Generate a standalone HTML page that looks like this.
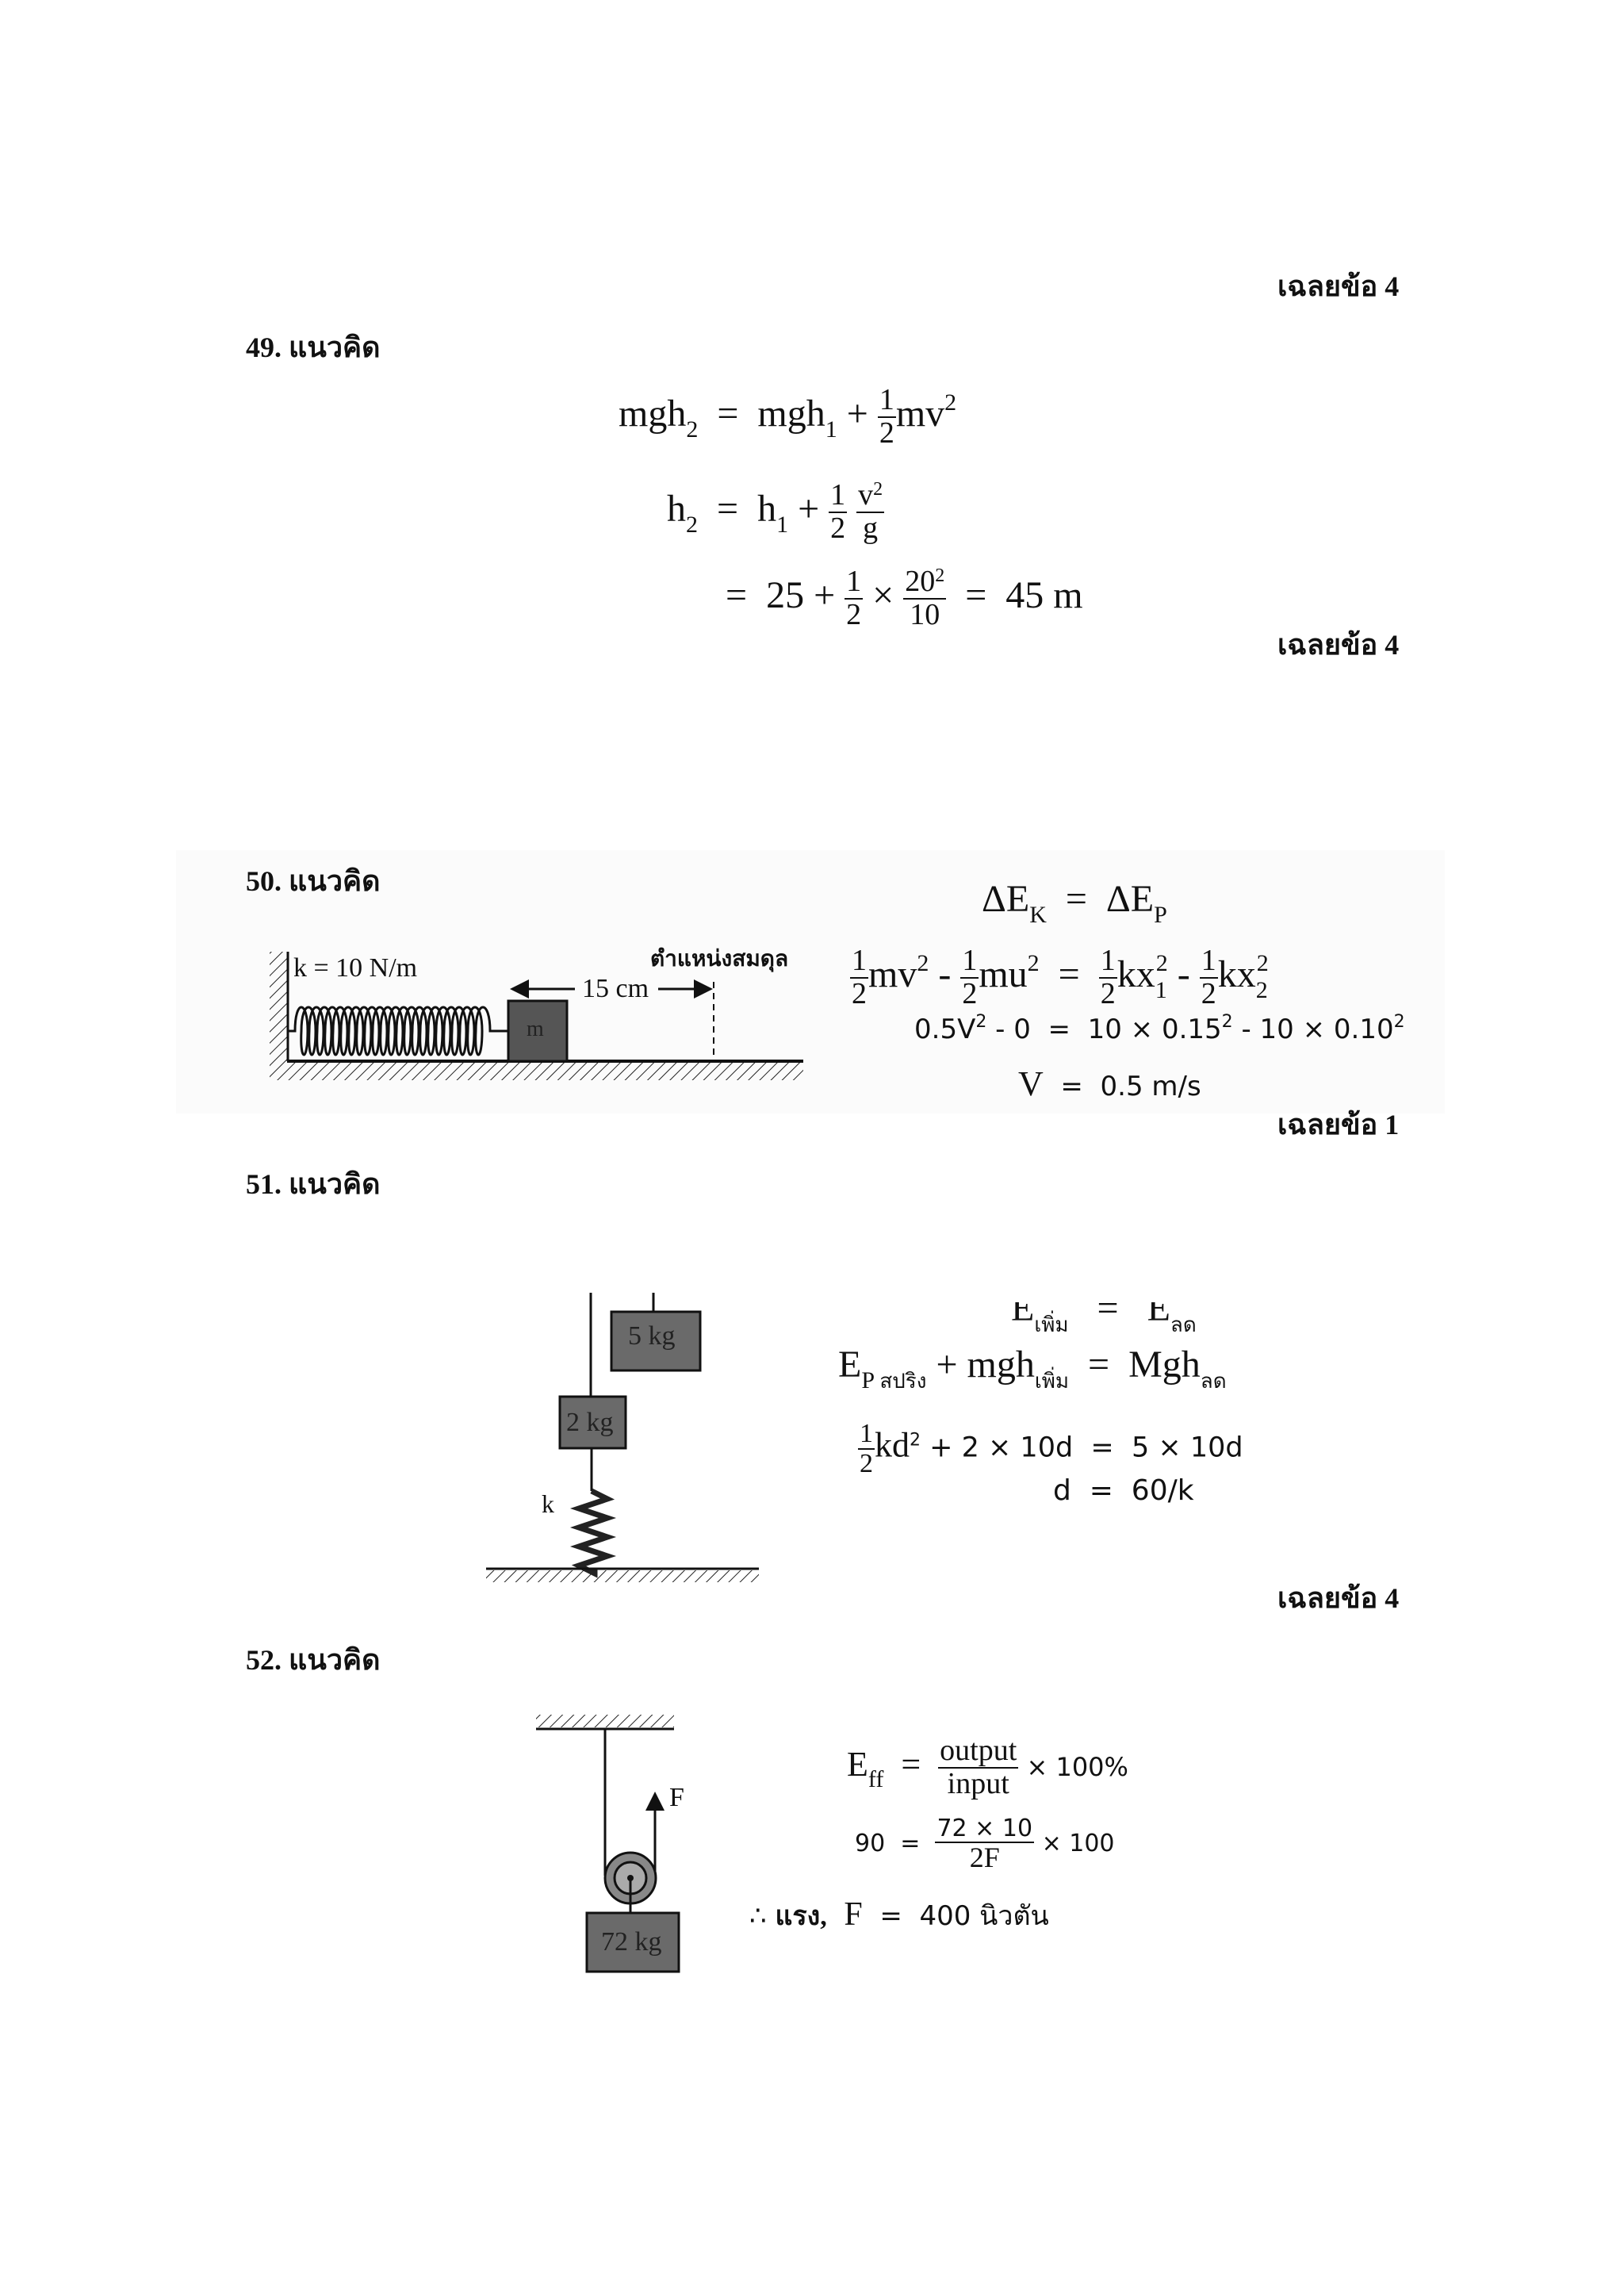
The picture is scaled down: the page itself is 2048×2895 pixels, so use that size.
<!DOCTYPE html>
<html><head><meta charset="utf-8"><style>
body{margin:0;width:2048px;height:2895px;background:#fff;position:relative;overflow:hidden;font-family:"Liberation Serif","Noto Serif CJK SC",serif;color:#111}
.a{position:absolute;white-space:nowrap;line-height:1}
.h{font-weight:bold;font-size:36px;font-family:"Liberation Serif","Noto Sans CJK SC",serif}
.eq{font-size:48px}
.fr{display:inline-block;vertical-align:middle;text-align:center;font-size:38px;line-height:1.05}
.fr span{display:block;padding:0 2px}
.fr span:first-child{border-bottom:2px solid #111}
sub{font-size:30px;vertical-align:-14px}
sup{font-size:30px;vertical-align:20px}
</style></head><body>

<div class="a h" style="left:1611px;top:343px">เฉลยข้อ 4</div>
<div class="a h" style="left:310px;top:420px">49. แนวคิด</div>

<div class="a eq" style="left:780px;top:485px">mgh<sub>2</sub>&nbsp; = &nbsp;mgh<sub>1</sub> + <span class="fr"><span>1</span><span>2</span></span>mv<sup>2</sup></div>
<div class="a eq" style="left:841px;top:605px">h<sub>2</sub>&nbsp; = &nbsp;h<sub>1</sub> + <span class="fr"><span>1</span><span>2</span></span> <span class="fr"><span>v<sup style="font-size:24px;vertical-align:12px">2</sup></span><span>g</span></span></div>
<div class="a eq" style="left:915px;top:714px">= &nbsp;25 + <span class="fr"><span>1</span><span>2</span></span> × <span class="fr"><span>20<sup style="font-size:24px;vertical-align:12px">2</sup></span><span>10</span></span> &nbsp;= &nbsp;45 m</div>
<div class="a h" style="left:1611px;top:795px">เฉลยข้อ 4</div>

<div style="position:absolute;left:222px;top:1072px;width:1600px;height:332px;background:#fbfbfb"></div>
<div class="a h" style="left:310px;top:1093px">50. แนวคิด</div>
<svg style="position:absolute;left:0;top:0" width="2048" height="2895">
<defs>
<pattern id="hat" width="10" height="10" patternUnits="userSpaceOnUse" patternTransform="rotate(45)"><line x1="0" y1="0" x2="0" y2="10" stroke="#222" stroke-width="2"/></pattern>
<marker id="ar" markerWidth="8" markerHeight="8" refX="7" refY="4" orient="auto"><path d="M0,0L8,4L0,8z" fill="#111"/></marker>
</defs>
<!-- 50 -->
<rect x="340" y="1200" width="22" height="140" fill="url(#hat)"/>
<line x1="363" y1="1200" x2="363" y2="1338" stroke="#111" stroke-width="3"/>
<rect x="340" y="1340" width="673" height="22" fill="url(#hat)"/>
<line x1="362" y1="1338" x2="1013" y2="1338" stroke="#111" stroke-width="4"/>
<path d="M363,1300 H372 C372,1260 388,1260 388,1300 C388,1340 378,1340 380,1300 C380,1260 398,1260 398,1300 C398,1340 388,1340 390,1300 C390,1260 408,1260 408,1300 C408,1340 398,1340 400,1300 C400,1260 418,1260 418,1300 C418,1340 408,1340 410,1300 C410,1260 428,1260 428,1300 C428,1340 418,1340 420,1300 C420,1260 438,1260 438,1300 C438,1340 428,1340 430,1300 C430,1260 448,1260 448,1300 C448,1340 438,1340 440,1300 C440,1260 458,1260 458,1300 C458,1340 448,1340 450,1300 C450,1260 468,1260 468,1300 C468,1340 458,1340 460,1300 C460,1260 478,1260 478,1300 C478,1340 468,1340 470,1300 C470,1260 488,1260 488,1300 C488,1340 478,1340 480,1300 C480,1260 498,1260 498,1300 C498,1340 488,1340 490,1300 C490,1260 508,1260 508,1300 C508,1340 498,1340 500,1300 C500,1260 518,1260 518,1300 C518,1340 508,1340 510,1300 C510,1260 528,1260 528,1300 C528,1340 518,1340 520,1300 C520,1260 538,1260 538,1300 C538,1340 528,1340 530,1300 C530,1260 548,1260 548,1300 C548,1340 538,1340 540,1300 C540,1260 558,1260 558,1300 C558,1340 548,1340 550,1300 C550,1260 568,1260 568,1300 C568,1340 558,1340 560,1300 C560,1260 578,1260 578,1300 C578,1340 568,1340 570,1300 C570,1260 588,1260 588,1300 C588,1340 578,1340 580,1300 C580,1260 598,1260 598,1300 C598,1340 588,1340 590,1300 C590,1260 608,1260 608,1300 C608,1340 598,1340 600,1300 C600,1260 618,1260 618,1300 V1300 H641" fill="none" stroke="#111" stroke-width="3"/>
<rect x="641" y="1262" width="74" height="76" fill="#555" stroke="#111" stroke-width="3"/>
<line x1="900" y1="1238" x2="900" y2="1338" stroke="#111" stroke-width="2" stroke-dasharray="8,6"/>
<line x1="725" y1="1247" x2="646" y2="1247" stroke="#111" stroke-width="3" marker-end="url(#ar)"/>
<line x1="830" y1="1247" x2="896" y2="1247" stroke="#111" stroke-width="3" marker-end="url(#ar)"/>
<!-- 51 -->
<line x1="745" y1="1630" x2="745" y2="1761" stroke="#111" stroke-width="3"/>
<line x1="824" y1="1630" x2="824" y2="1654" stroke="#111" stroke-width="3"/>
<rect x="771" y="1654" width="112" height="74" fill="#6a6a6a" stroke="#111" stroke-width="3"/>
<rect x="706" y="1761" width="83" height="65" fill="#6a6a6a" stroke="#111" stroke-width="3"/>
<line x1="746" y1="1826" x2="746" y2="1880" stroke="#111" stroke-width="3"/>
<path d="M746,1880 l20,10 -36,12 36,12 -36,12 36,12 -36,12 36,12 -36,12 20,10 V1977" fill="none" stroke="#222" stroke-width="7"/>
<rect x="613" y="1980" width="344" height="15" fill="url(#hat)"/>
<line x1="613" y1="1978" x2="957" y2="1978" stroke="#111" stroke-width="3"/>
<!-- 52 -->
<rect x="676" y="2162" width="174" height="16" fill="url(#hat)"/>
<line x1="676" y1="2180" x2="850" y2="2180" stroke="#111" stroke-width="3"/>
<line x1="763" y1="2180" x2="763" y2="2365" stroke="#111" stroke-width="3"/>
<line x1="826" y1="2365" x2="826" y2="2262" stroke="#111" stroke-width="3" marker-end="url(#ar)"/>
<circle cx="795" cy="2368" r="32" fill="#888" stroke="#111" stroke-width="3"/>
<circle cx="795" cy="2368" r="20" fill="#aaa" stroke="#111" stroke-width="3"/>
<circle cx="795" cy="2368" r="4" fill="#111"/>
<line x1="795" y1="2368" x2="795" y2="2412" stroke="#111" stroke-width="3"/>
<rect x="740" y="2412" width="116" height="74" fill="#6a6a6a" stroke="#111" stroke-width="3"/>
</svg>
<div class="a" style="left:370px;top:1204px;font-size:34px">k = 10 N/m</div>
<div class="a" style="left:820px;top:1196px;font-size:28px;font-family:'Liberation Serif','Noto Sans CJK SC',serif;font-weight:bold">ตำแหน่งสมดุล</div>
<div class="a" style="left:730px;top:1230px;font-size:34px;background:#fbfbfb;padding:0 4px">15 cm</div>
<div class="a" style="left:664px;top:1284px;font-size:28px;color:#222">m</div>

<div class="a eq" style="left:1238px;top:1110px">ΔE<sub>K</sub>&nbsp; = &nbsp;ΔE<sub>P</sub></div>
<div class="a eq" style="left:1072px;top:1192px"><span class="fr"><span>1</span><span>2</span></span>mv<sup>2</sup> - <span class="fr"><span>1</span><span>2</span></span>mu<sup>2</sup>&nbsp; = &nbsp;<span class="fr"><span>1</span><span>2</span></span>kx<sub>1</sub><sup style="margin-left:-14px">2</sup> - <span class="fr"><span>1</span><span>2</span></span>kx<sub>2</sub><sup style="margin-left:-14px">2</sup></div>
<div class="a" style="left:1153px;top:1278px;font-size:34px;font-family:'DejaVu Sans',sans-serif">0.5V<sup style="font-size:22px;vertical-align:14px">2</sup> - 0 &nbsp;= &nbsp;10 × 0.15<sup style="font-size:22px;vertical-align:14px">2</sup> - 10 × 0.10<sup style="font-size:22px;vertical-align:14px">2</sup></div>
<div class="a" style="left:1284px;top:1345px;font-size:34px;font-family:'DejaVu Sans',sans-serif"><span style="font-family:'Liberation Serif';font-size:44px">V</span> &nbsp;= &nbsp;0.5 m/s</div>
<div class="a h" style="left:1611px;top:1400px">เฉลยข้อ 1</div>
<div class="a h" style="left:310px;top:1475px">51. แนวคิด</div>

<div class="a" style="left:792px;top:1668px;font-size:34px;color:#222">5 kg</div>
<div class="a" style="left:714px;top:1777px;font-size:34px;color:#222">2 kg</div>
<div class="a" style="left:683px;top:1880px;font-size:32px">k</div>
<div class="a eq" style="left:1275px;top:1626px;clip-path:inset(16px 0 0 0)">E<sub style="font-size:26px">เพิ่ม</sub>&nbsp;&nbsp; = &nbsp; E<sub style="font-size:26px">ลด</sub></div>
<div class="a eq" style="left:1057px;top:1697px">E<sub>P <span style="font-size:26px">สปริง</span></sub> + mgh<sub style="font-size:26px">เพิ่ม</sub>&nbsp; = &nbsp;Mgh<sub style="font-size:26px">ลด</sub></div>
<div class="a" style="left:1082px;top:1790px;font-size:35px;font-family:'DejaVu Sans',sans-serif"><span class="fr" style="font-family:'Liberation Serif';font-size:34px"><span>1</span><span>2</span></span><span style="font-family:'Liberation Serif';font-size:44px">kd</span><sup style="font-size:22px;vertical-align:14px">2</sup> + 2 × 10d &nbsp;= &nbsp;5 × 10d</div>
<div class="a" style="left:1328px;top:1862px;font-size:36px;font-family:'DejaVu Sans',sans-serif">d &nbsp;= &nbsp;60/k</div>
<div class="a h" style="left:1611px;top:1997px">เฉลยข้อ 4</div>
<div class="a h" style="left:310px;top:2075px">52. แนวคิด</div>

<div class="a" style="left:844px;top:2250px;font-size:34px">F</div>
<div class="a" style="left:758px;top:2432px;font-size:34px;color:#222">72 kg</div>
<div class="a eq" style="left:1068px;top:2188px;font-size:44px">E<sub>ff</sub>&nbsp; = &nbsp;<span class="fr" style="font-size:38px"><span>output</span><span>input</span></span><span style="font-size:32px;font-family:'DejaVu Sans',sans-serif"> × 100%</span></div>
<div class="a" style="left:1078px;top:2290px;font-size:30px;font-family:'DejaVu Sans',sans-serif">90 &nbsp;= &nbsp;<span class="fr" style="font-size:30px"><span>72 × 10</span><span style="font-family:'Liberation Serif';font-size:36px">2F</span></span> × 100</div>
<div class="a" style="left:945px;top:2393px;font-size:34px;font-family:'DejaVu Sans','Noto Sans CJK SC',sans-serif">∴ <b style="font-family:'Liberation Serif','Noto Sans CJK SC',serif">แรง,</b> &nbsp;<span style="font-family:'Liberation Serif';font-size:42px">F</span> &nbsp;= &nbsp;400 นิวตัน</div>
</body></html>
